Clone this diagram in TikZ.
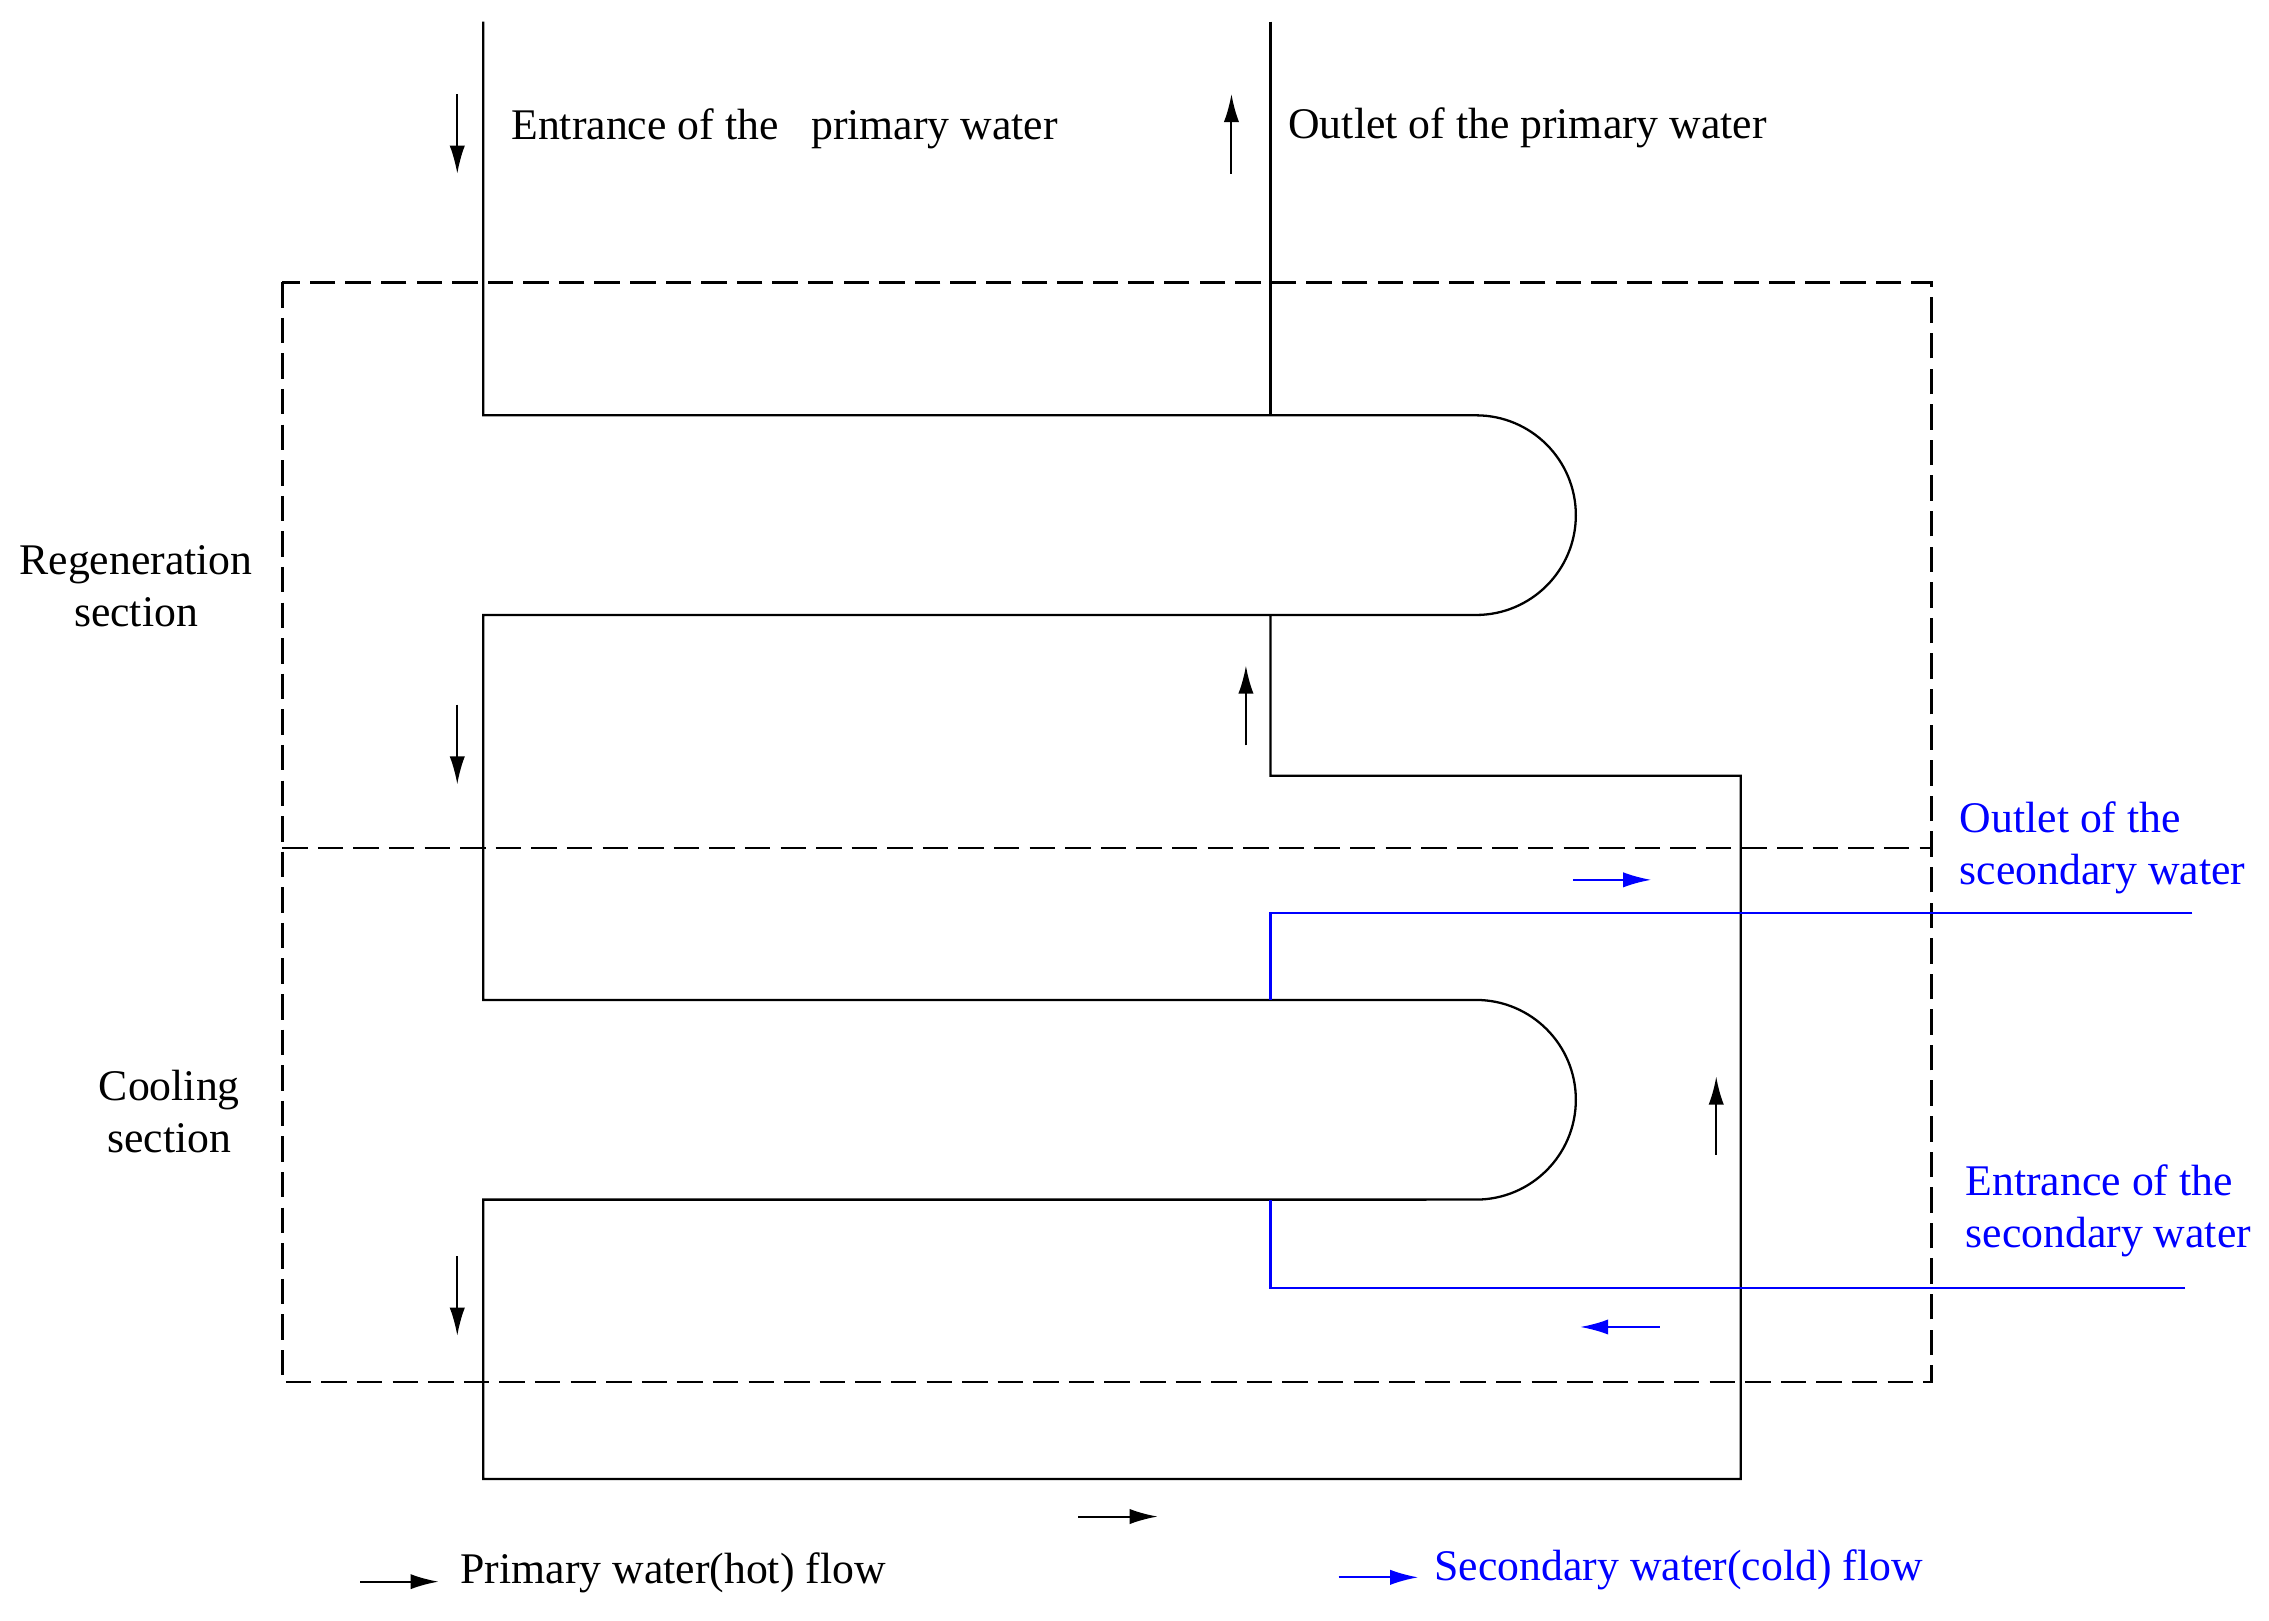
\documentclass[tikz,border=0pt]{standalone}
\usepackage{fontspec}
\setmainfont{Liberation Serif}
\usetikzlibrary{arrows.meta}
\begin{document}
\begin{tikzpicture}[x=0.02cm,y=-0.02cm,
  pipe/.style={line width=0.9pt},
  sec/.style={blue,line width=0.9pt},
  box/.style={dashed,dash pattern=on 10pt off 4pt,line width=1.1pt},
  fl/.style={-{Latex[length=11pt,width=6pt]},line width=0.8pt},
  bfl/.style={fl,blue},
  lab/.style={font=\fontsize{17.2}{20.5}\selectfont,inner sep=0pt},
  blab/.style={lab,blue,align=left,anchor=west}]
\useasboundingbox (0,0) rectangle (1568,1120);
% dashed sections
\draw[box] (195,195) rectangle (1335,955);
\coordinate (ml) at (195,586); \coordinate (mr) at (1335,586);
\draw[box] (ml) -- (mr);
% primary pipe
\coordinate (in) at (334,15);
\coordinate (out) at (878,15);
\draw[pipe] (in) -- (334,287) -- (1020,287) arc[start angle=90,end angle=-90,radius=1.38cm]
  -- (334,425) -- (334,691) -- (1020,691) arc[start angle=90,end angle=-90,radius=1.38cm]
  -- (334,829) -- (334,1022) -- (1203,1022) -- (1203,536) -- (878,536) -- (878,425);
\draw[pipe] (out) -- (878,287);
% secondary
\coordinate (so) at (1515,631);
\coordinate (si) at (1510,890);
\draw[sec] (so) -- (878,631) -- (878,691);
\draw[sec] (si) -- (878,890) -- (878,829);
% flow arrows
\coordinate (a1s) at (316,65); \coordinate (a1e) at (316,120); \draw[fl] (a1s) -- (a1e);
\coordinate (a2s) at (316,487); \coordinate (a2e) at (316,542); \draw[fl] (a2s) -- (a2e);
\coordinate (a3s) at (316,868); \coordinate (a3e) at (316,923); \draw[fl] (a3s) -- (a3e);
\coordinate (a4s) at (851,120); \coordinate (a4e) at (851,65); \draw[fl] (a4s) -- (a4e);
\coordinate (a5s) at (861,515); \coordinate (a5e) at (861,460); \draw[fl] (a5s) -- (a5e);
\coordinate (a6s) at (1186,798); \coordinate (a6e) at (1186,744); \draw[fl] (a6s) -- (a6e);
\coordinate (a7s) at (745,1048); \coordinate (a7e) at (800,1048); \draw[fl] (a7s) -- (a7e);
\coordinate (b1s) at (1087,608); \coordinate (b1e) at (1141,608); \draw[bfl] (b1s) -- (b1e);
\coordinate (b2s) at (1147,917); \coordinate (b2e) at (1092,917); \draw[bfl] (b2s) -- (b2e);
\coordinate (l1s) at (249,1093); \coordinate (l1e) at (303,1093); \draw[fl] (l1s) -- (l1e);
\coordinate (l2s) at (925,1090); \coordinate (l2e) at (980,1090); \draw[bfl] (l2s) -- (l2e);
% labels
\node[lab,anchor=west] (t1) at (353,89) {Entrance of the\ \ \ primary water};
\node[lab,anchor=west] (t2) at (890,88) {Outlet of the primary water};
\node[lab,align=center] (t3) at (94,405) {Regeneration\\section};
\node[lab,align=center] (t4) at (117,768) {Cooling\\section};
\node[blab] (t5) at (1354,586) {Outlet of the\\sceondary water};
\node[blab] (t6) at (1358,837) {Entrance of the\\secondary water};
\node[lab,anchor=west] (t7) at (318,1087) {Primary water(hot) flow};
\node[lab,anchor=west,blue] (t8) at (991,1085) {Secondary water(cold) flow};
\end{tikzpicture}
\end{document}
